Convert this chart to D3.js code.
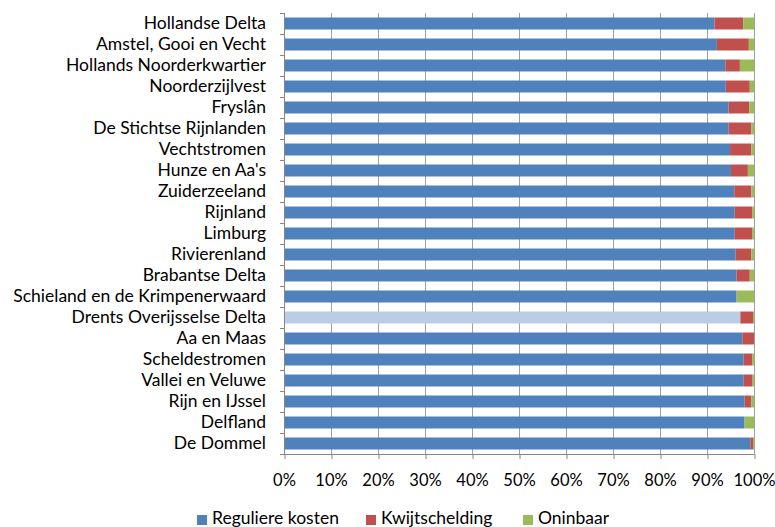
<!DOCTYPE html>
<html>
<head>
<meta charset="utf-8">
<script src="https://cdn.jsdelivr.net/npm/d3@7"></script>
<style>
  body { margin: 0; background: #fff; }
  svg { display: block; font-family: Lato, "Noto Sans", sans-serif; }
</style>
</head>
<body>
<svg id="chart" width="775" height="527"></svg>
<script>
// waterschappen, top to bottom
var categories = [
    "Hollandse Delta", "Amstel, Gooi en Vecht", "Hollands Noorderkwartier", "Noorderzijlvest",
    "Fryslân", "De Stichtse Rijnlanden", "Vechtstromen", "Hunze en Aa's", "Zuiderzeeland",
    "Rijnland", "Limburg", "Rivierenland", "Brabantse Delta", "Schieland en de Krimpenerwaard",
    "Drents Overijsselse Delta", "Aa en Maas", "Scheldestromen", "Vallei en Veluwe",
    "Rijn en IJssel", "Delfland", "De Dommel"
];
// shares in %
var regulier = [91.6, 92.1, 93.9, 94.0, 94.6, 94.6, 94.9, 95.1, 95.8, 95.9, 95.9,
                96.1, 96.3, 96.3, 97.1, 97.5, 97.8, 97.8, 98.0, 98.0, 99.2];
var kwijtschelding = [6.1, 6.8, 3.1, 5.1, 4.4, 4.8, 4.5, 3.6, 3.6, 3.7, 3.7,
                      3.3, 2.8, 0.0, 2.7, 2.5, 1.8, 1.9, 1.4, 0.0, 0.6];
var oninbaar = [2.3, 1.1, 3.0, 0.9, 1.0, 0.6, 0.6, 1.3, 0.6, 0.4, 0.4,
                0.6, 0.9, 3.7, 0.2, 0.0, 0.4, 0.3, 0.6, 2.0, 0.2];
var seriesNames = ["Reguliere kosten", "Kwijtschelding", "Oninbaar"];
var xTicks = [0, 10, 20, 30, 40, 50, 60, 70, 80, 90, 100];
var highlight = "Drents Overijsselse Delta";

var colors = ["#4f81bd", "#c0504d", "#9bbb59"];
var fontSize = 17.5;

var svg = d3.select("#chart");
var margin = {left: 284, right: 21, top: 13, bottom: 73};
var width = 775 - margin.left - margin.right;
var height = 527 - margin.top - margin.bottom;

var rows = categories.map(function (c, i) {
    return {name: c, "Reguliere kosten": regulier[i], "Kwijtschelding": kwijtschelding[i], "Oninbaar": oninbaar[i]};
});
var stacked = d3.stack().keys(seriesNames)(rows);

var x = d3.scaleLinear().domain([0, 100]).range([0, width]);
var y = d3.scaleBand().domain(categories).range([0, height]).paddingInner(0.43).paddingOuter(0.215);

var g = svg.append("g").attr("transform", "translate(" + margin.left + "," + margin.top + ")");

// vertical gridlines
g.append("g").selectAll("line")
    .data(xTicks.slice(1)).enter()
    .append("line")
    .attr("x1", d => x(d) + 0.5).attr("x2", d => x(d) + 0.5)
    .attr("y1", 0).attr("y2", height)
    .attr("stroke", "#a0a0a0").attr("stroke-width", 1);

// bars
g.append("g").selectAll("g")
    .data(stacked).enter()
    .append("g")
    .each(function (s, si) {
        d3.select(this).selectAll("rect")
            .data(s).enter()
            .append("rect")
            .attr("x", d => x(d[0]))
            .attr("width", d => Math.max(0, x(d[1]) - x(d[0])))
            .attr("y", d => y(d.data.name))
            .attr("height", y.bandwidth())
            .attr("fill", d => (si == 0 && d.data.name == highlight) ? "#b9cde5" : colors[si]);
    });

// y axis
var yAxis = g.append("g")
    .call(d3.axisLeft(y).tickSize(0).tickPadding(18))
    .attr("font-family", null).attr("font-size", null);
yAxis.select(".domain").attr("stroke", "#868686").attr("d", "M0.5,0V" + height);
yAxis.selectAll("text").attr("fill", "#000").style("font-size", fontSize + "px");
// tick marks between categories
yAxis.selectAll(".sep")
    .data(d3.range(categories.length + 1)).enter()
    .append("line").attr("class", "sep")
    .attr("x1", -4).attr("x2", 0.5)
    .attr("y1", i => Math.round(i * y.step()) + 0.5)
    .attr("y2", i => Math.round(i * y.step()) + 0.5)
    .attr("stroke", "#868686");

// x axis
var xAxis = g.append("g")
    .attr("transform", "translate(0," + height + ")")
    .call(d3.axisBottom(x).tickValues(xTicks).tickSize(5).tickPadding(15).tickFormat(d => d + "%"))
    .attr("font-family", null).attr("font-size", null);
xAxis.select(".domain").attr("stroke", "#868686").attr("d", "M0," + 0.5 + "H" + (width + 0.5));
xAxis.selectAll(".tick line").attr("stroke", "#868686").attr("transform", "translate(0.5,0)");
xAxis.selectAll("text").attr("fill", "#000").style("font-size", "16.5px");

// legend
var legendX = [197, 366, 523];
var legend = svg.append("g").attr("transform", "translate(0,524)");
seriesNames.forEach(function (name, i) {
    legend.append("rect")
        .attr("x", legendX[i]).attr("y", -9)
        .attr("width", 10).attr("height", 10)
        .attr("fill", colors[i]);
    legend.append("text")
        .attr("x", legendX[i] + 15).attr("y", 0)
        .style("font-size", fontSize + "px")
        .text(name);
});
</script>
</body>
</html>
